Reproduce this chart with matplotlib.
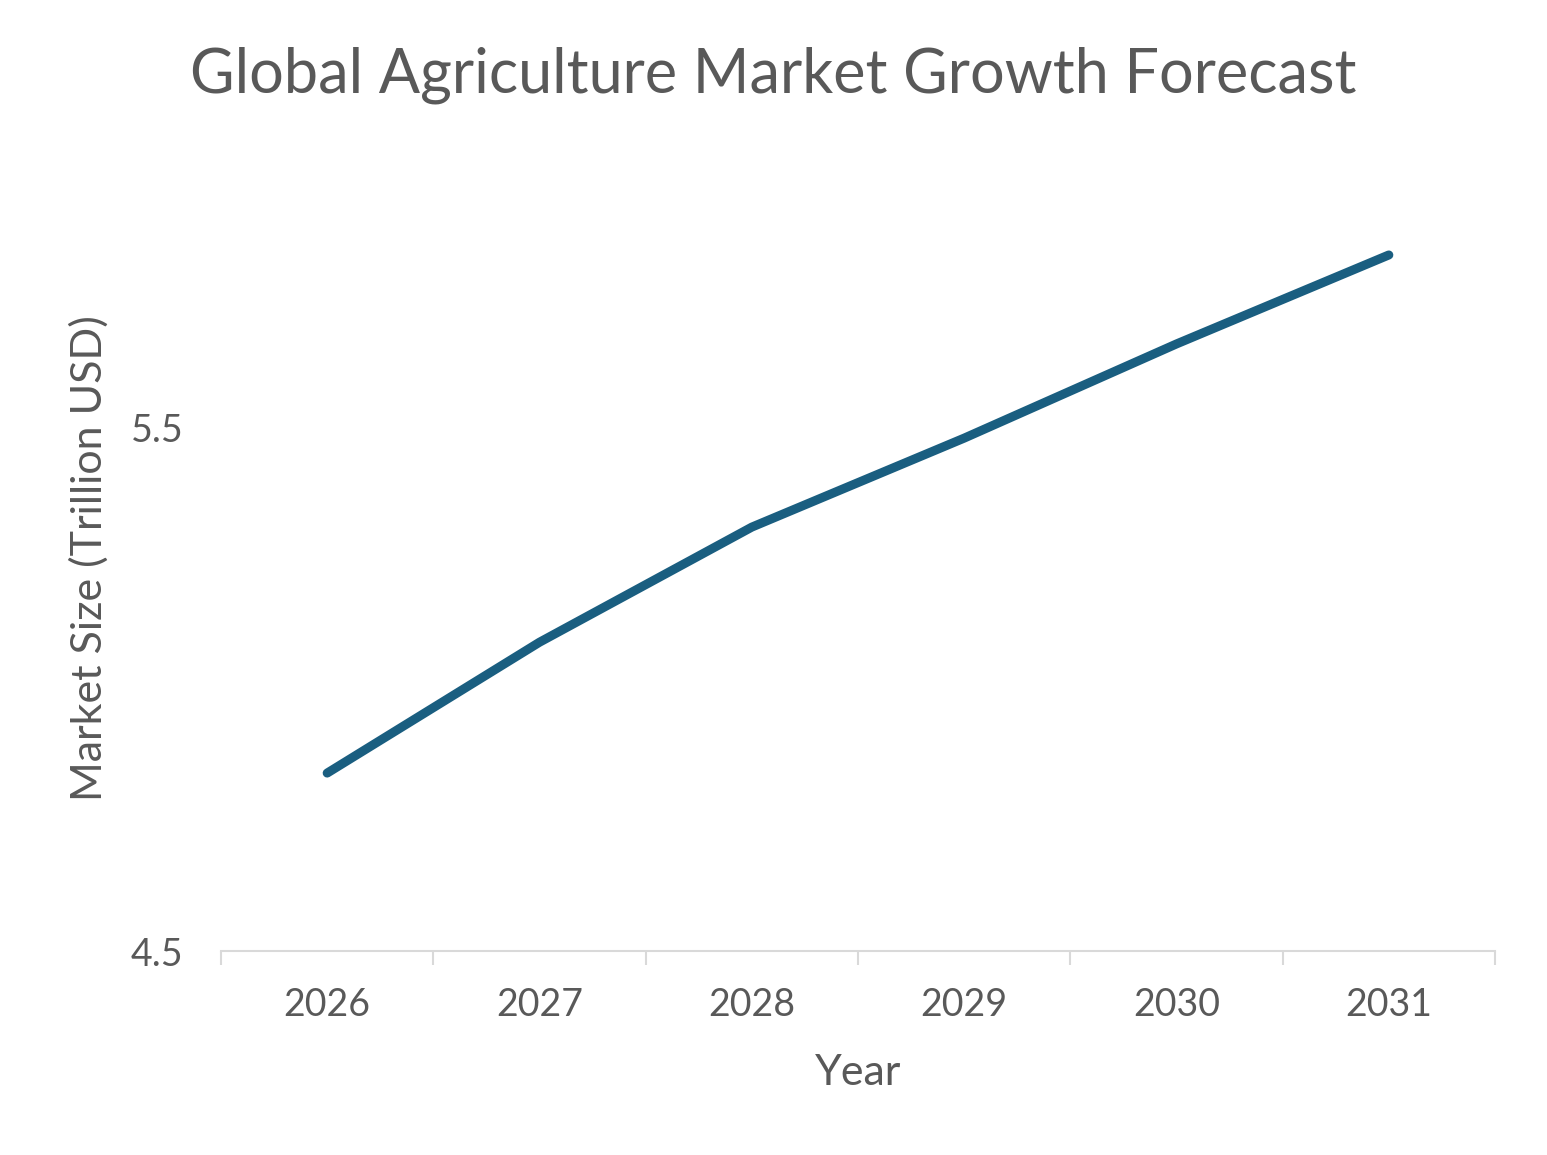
import numpy as np
import matplotlib.pyplot as plt

# Datos
years = ['2026', '2027', '2028', '2029', '2030', '2031']
market_size = [4.84, 5.09, 5.31, 5.48, 5.66, 5.83]

plt.rcParams['font.family'] = ['Lato', 'DejaVu Sans']
gris = '#595959'

fig = plt.figure(figsize=(15.47, 11.55), dpi=100)
ax = fig.add_axes([221 / 1547, 1 - 951 / 1155, (1495 - 221) / 1547, (951 - 166) / 1155])

x = np.arange(len(years))
ax.plot(x, market_size, color='#1a5e80', linewidth=6.5, solid_capstyle='round',
        solid_joinstyle='round')

ax.set_xlim(-0.5, len(years) - 0.5)
ax.set_ylim(4.5, 6.0)
ax.set_yticks([4.5, 5.5])
ax.set_yticklabels(['4.5', '5.5'])
ax.set_xticks(x)
ax.set_xticklabels(years)
ax.set_xticks(np.arange(-0.5, len(years)), minor=True)

for s in ['top', 'right', 'left']:
    ax.spines[s].set_visible(False)
ax.spines['bottom'].set_color('#d9d9d9')
ax.spines['bottom'].set_linewidth(1.5)

ax.tick_params(axis='x', which='major', length=0, pad=26, labelsize=27, labelcolor=gris)
ax.tick_params(axis='x', which='minor', length=10, width=1.5, color='#d9d9d9')
ax.tick_params(axis='y', length=0, pad=27, labelsize=27, labelcolor=gris)

ax.set_xlabel('Year', fontsize=31, color=gris, labelpad=22)
ax.set_ylabel('Market Size (Trillion USD)', fontsize=31, color=gris, labelpad=16)
fig.suptitle('Global Agriculture Market Growth Forecast', fontsize=44, color=gris, y=0.96)

plt.savefig('out.png')
